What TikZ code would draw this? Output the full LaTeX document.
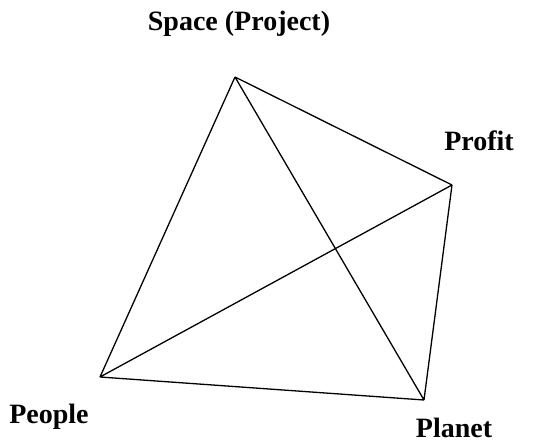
\documentclass[tikz,border=0pt]{standalone}
\usepackage{fontspec}
\setmainfont{Liberation Serif}
\begin{document}
\begin{tikzpicture}[x=1pt,y=-1pt,
  lbl/.style={font=\fontsize{28}{32}\selectfont\bfseries, inner sep=0pt},
  edge/.style={line width=1.3pt, line join=round}]
\useasboundingbox (0,0) rectangle (552,444);
\coordinate (T) at (235,77);
\coordinate (R) at (452,185);
\coordinate (B) at (424,400);
\coordinate (L) at (100,377);
\draw[edge] (T) -- (L) (T) -- (R) (T) -- (B) (L) -- (R) (L) -- (B) (R) -- (B);
\node[lbl] (space) at (239,24) {Space (Project)};
\node[lbl] (profit) at (479,141) {Profit};
\node[lbl] (people) at (49,417) {People};
\node[lbl] (planet) at (454,428) {Planet};
\end{tikzpicture}
\end{document}
